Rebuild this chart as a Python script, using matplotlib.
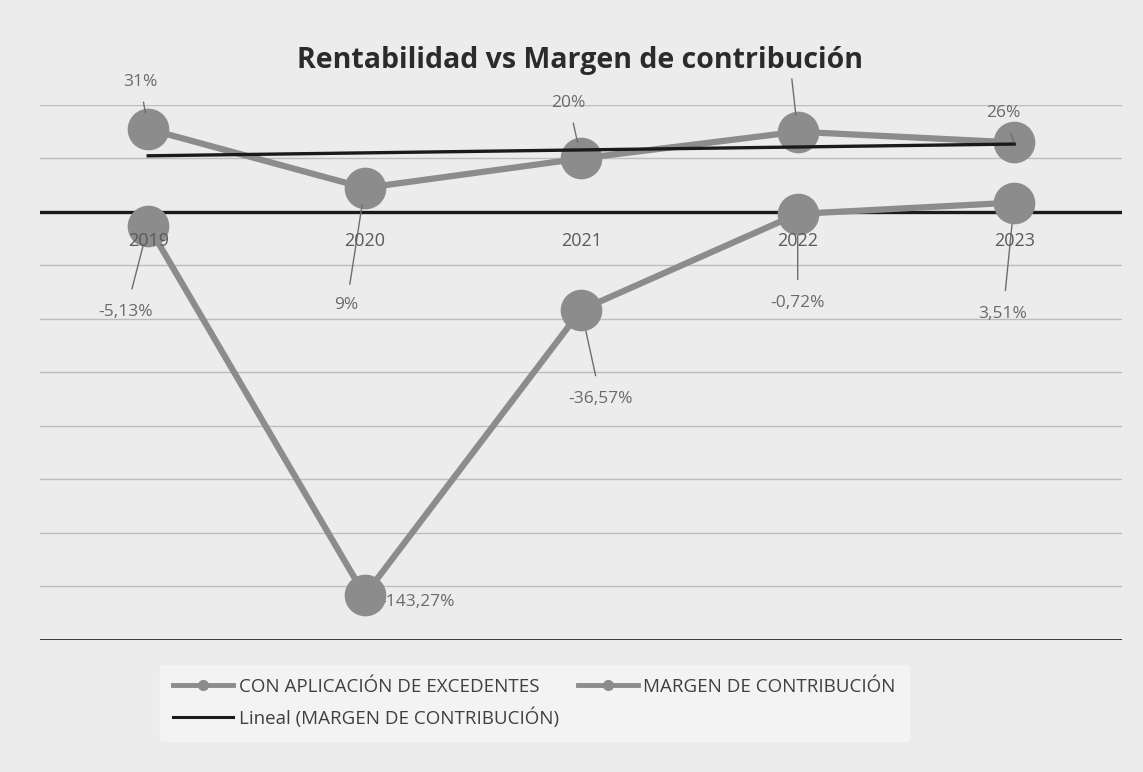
import numpy as np
import matplotlib
matplotlib.use("Agg")
import matplotlib.pyplot as plt
from matplotlib.lines import Line2D

plt.rcParams['font.family'] = ['Open Sans', 'DejaVu Sans']

years = ["2019", "2020", "2021", "2022", "2023"]
con_excedentes = [31, 9, 20, 30, 26]
margen = [-5.13, -143.27, -36.57, -0.72, 3.51]
labels_exc = ["31%", "9%", "20%", "", "26%"]
labels_mar = ["-5,13%", "-143,27%", "-36,57%", "-0,72%", "3,51%"]

# label offsets (points) relative to each point
off_exc = [(-6, 34), (-13, -84), (-9, 40), (-5, 45), (-8, 21)]
off_mar = [(-16, -62), (11, -5), (14, -64), (0, -64), (-8, -80)]
ha_mar = ["center", "left", "center", "center", "center"]

bg = "#ececec"
fig = plt.figure(figsize=(11.43, 7.72), dpi=100, facecolor=bg)
ax = fig.add_axes([0.035, 0.171, 0.947, 0.693], facecolor=bg)

x = np.arange(len(years))
ax.set_xlim(-0.5, len(years) - 0.5)
ax.set_ylim(-160, 40)

for gy in range(-160, 41, 20):
    if gy == 0:
        continue
    ax.axhline(gy, color="#3a3a3a" if gy == -160 else "#bdbdbd",
               lw=1.4 if gy == -160 else 1.0, zorder=1)

ax.axhline(0, color="#1a1a1a", lw=2.4, zorder=2)

gray = "#8c8c8c"
ax.plot(x, con_excedentes, color=gray, lw=4.5, marker="o", ms=29, mfc=gray, mec=gray, zorder=4)
ax.plot(x, margen, color=gray, lw=4.5, marker="o", ms=29, mfc=gray, mec=gray, zorder=4)

coef = np.polyfit(x, con_excedentes, 1)
ax.plot(x, np.polyval(coef, x), color="#1a1a1a", lw=2.4, zorder=5)

txt_color = "#6a6a6a"
for i in range(len(years)):
    ax.annotate(labels_exc[i], xy=(x[i], con_excedentes[i]), xytext=off_exc[i],
                textcoords="offset points", ha="center", va="center",
                fontsize=12.5, color=txt_color, zorder=6,
                arrowprops=dict(arrowstyle="-", color="#6e6e6e", lw=1.0,
                                shrinkA=7, shrinkB=12))
    ax.annotate(labels_mar[i], xy=(x[i], margen[i]), xytext=off_mar[i],
                textcoords="offset points", ha=ha_mar[i], va="center",
                fontsize=12.5, color=txt_color, zorder=3,
                arrowprops=None if i == 1 else dict(arrowstyle="-", color="#6e6e6e", lw=1.0,
                                                   shrinkA=9, shrinkB=12))

for i, yr in enumerate(years):
    ax.text(x[i], -11, yr, ha="center", va="center", fontsize=13, color="#5a5a5a", zorder=6)

ax.set_xticks([])
ax.set_yticks([])
for s in ax.spines.values():
    s.set_visible(False)

fig.text(0.507, 0.922, "Rentabilidad vs Margen de contribución", ha="center", va="center",
         fontsize=20.5, fontweight="bold", color="#2b2b2b")

handles = [
    Line2D([0], [0], color=gray, lw=3.5, marker="o", ms=7, mfc=gray, mec=gray),
    Line2D([0], [0], color="#1a1a1a", lw=2.2),
    Line2D([0], [0], color=gray, lw=3.5, marker="o", ms=7, mfc=gray, mec=gray),
]
names = ["CON APLICACIÓN DE EXCEDENTES", "Lineal (MARGEN DE CONTRIBUCIÓN)", "MARGEN DE CONTRIBUCIÓN"]
leg = fig.legend(handles, names, loc="upper left", bbox_to_anchor=(0.14, 0.139), ncol=2,
                 frameon=True, facecolor="#f3f3f3", edgecolor="#f3f3f3", fontsize=13.5,
                 handlelength=3.2, handletextpad=0.3, columnspacing=1.0,
                 labelcolor="#3f3f3f", borderpad=0.7, labelspacing=0.6,
                 borderaxespad=0)
leg.get_frame().set_alpha(1)

fig.savefig("out.png", dpi=100, facecolor=bg)
